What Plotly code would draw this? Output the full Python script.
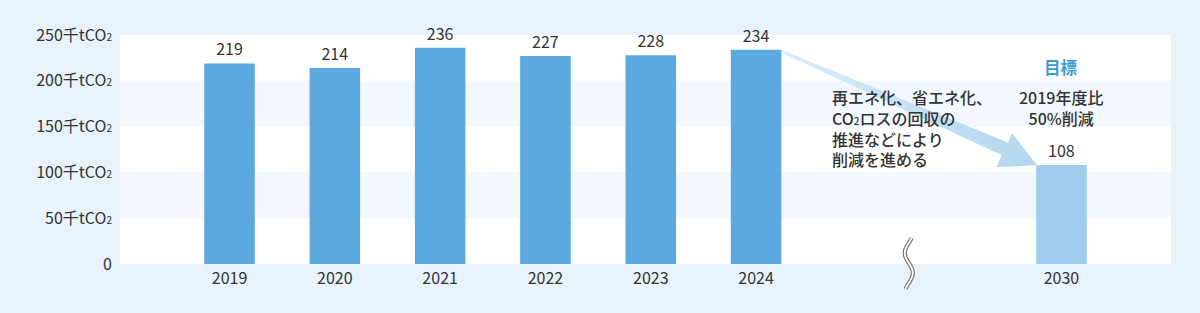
import numpy as np
import plotly.graph_objects as go

# ---------------- data ----------------
years = ["2019", "2020", "2021", "2022", "2023", "2024", "2030"]
emissions = [219, 214, 236, 227, 228, 234, 108]   # 千tCO2
y_ticks = [0, 50, 100, 150, 200, 250]
SUB2 = "<span style='font-size:10px'>2</span>"
y_tick_labels = ["0"] + [f"{v}千tCO{SUB2}" for v in y_ticks[1:]]
note_lines = ["再エネ化、省エネ化、", f"CO{SUB2}ロスの回収の", "推進などにより", "削減を進める"]
target_title = "目標"
target_lines = ["2019年度比", "50%削減"]

# ---------------- layout constants ----------------
W, H = 1200, 313
ML, MR, MT, MB = 120, 29, 35, 49
PW, PH = W - ML - MR, H - MT - MB
GAP = 2.90                    # spacing (in slots) between 2024 and 2030
BAR_W = 0.48
XMIN, XMAX = -1.04, 8.94
YMAX = 250
FONT = "Noto Sans CJK JP"
TXT = "#333333"
BAR_C = "#5ba9de"
TARGET_C = "#9fcbec"
BG = "#e8f2fa"
BAND = "#f2f8fd"

pos = [float(i) for i in range(len(years) - 1)] + [len(years) - 2 + GAP]
colors = [BAR_C] * (len(years) - 1) + [TARGET_C]

px_per_x = PW / (XMAX - XMIN)
px_per_y = PH / YMAX


def paper_x(x):
    return (x - XMIN) / (XMAX - XMIN)


fig = go.Figure()

fig.add_trace(go.Bar(
    x=pos, y=emissions, width=BAR_W,
    marker=dict(color=colors, line=dict(width=0)),
    text=[str(v) for v in emissions], textposition="outside",
    textfont=dict(family=FONT, size=16, color=TXT),
    constraintext="none", cliponaxis=False, hoverinfo="skip",
))

# ---- arrow from 2024 bar to 2030 bar ----
sx, sy = pos[5] + BAR_W / 2, emissions[5]
tx, ty = pos[6] - BAR_W / 2, emissions[6]


def off(bx, by, dxp, dyp):
    return bx + dxp / px_per_x, by - dyp / px_per_y


pts = [
    off(sx, sy, 0.5, 0.4),
    off(tx, ty, -28.3, -22.6),
    off(tx, ty, -24.0, -31.7),
    off(tx, ty, 0.6, 0.0),
    off(tx, ty, -40.0, 2.3),
    off(tx, ty, -34.3, -9.8),
    off(sx, sy, 0.5, 3.0),
]
pts.append(pts[0])
fig.add_trace(go.Scatter(
    x=[p[0] for p in pts], y=[p[1] for p in pts],
    mode="lines", line=dict(width=0, color="rgba(0,0,0,0)"),
    fill="toself",
    fillgradient=dict(type="horizontal",
                      colorscale=[[0, "#d9ecf7"], [1, "#b2d7ee"]]),
    hoverinfo="skip", showlegend=False,
))

# ---- background bands ----
shapes = []
for i in range(len(y_ticks) - 1):
    if i % 2 == 1:
        shapes.append(dict(type="rect", xref="paper", yref="y",
                           x0=0, x1=1, y0=y_ticks[i], y1=y_ticks[i + 1],
                           fillcolor=BAND, line=dict(width=0), layer="below"))

# ---- axis break symbol ----
bx = paper_x((pos[5] + pos[6]) / 2)
ys = np.linspace(238, 289, 60)
xs = ML + bx * PW + 4.0 * np.cos(np.pi * (ys - 233) / 20)
path = "M " + " L ".join(f"{(x - ML) / PW:.5f},{(MT + PH - y) / PH:.5f}" for x, y in zip(xs, ys))
shapes.append(dict(type="path", xref="paper", yref="paper", path=path,
                   line=dict(color="#777777", width=4.2), layer="above"))
shapes.append(dict(type="path", xref="paper", yref="paper", path=path,
                   line=dict(color="#ffffff", width=1.8), layer="above"))

# ---- annotations ----
ann = []
note_x = (830 - ML) / PW
note_mid = 127.5
ann.append(dict(xref="paper", yref="paper", x=note_x, y=(MT + PH - note_mid) / PH,
                xanchor="left", yanchor="middle", align="left",
                text="<br>".join(note_lines), showarrow=False,
                font=dict(family=FONT, size=16, color=TXT, weight=500)))
ann.append(dict(xref="x", yref="paper", x=pos[6], y=(MT + PH - 67) / PH,
                xanchor="center", yanchor="middle", text=target_title, showarrow=False,
                font=dict(family=FONT, size=16.5, color="#3f9bd6", weight=700)))
ann.append(dict(xref="x", yref="paper", x=pos[6], y=(MT + PH - 108) / PH,
                xanchor="center", yanchor="middle", align="center",
                text="<br>".join(target_lines), showarrow=False,
                font=dict(family=FONT, size=16, color=TXT, weight=500)))

fig.update_layout(
    width=W, height=H,
    margin=dict(l=ML, r=MR, t=MT, b=MB, autoexpand=False),
    paper_bgcolor=BG, plot_bgcolor="#ffffff",
    showlegend=False, shapes=shapes, annotations=ann,
    font=dict(family=FONT, size=16, color=TXT),
    xaxis=dict(range=[XMIN, XMAX], tickvals=pos, ticktext=years,
               showgrid=False, zeroline=False, showline=False, ticks="",
               ticklabelstandoff=3,
               tickfont=dict(family=FONT, size=16, color=TXT), fixedrange=True),
    yaxis=dict(range=[0, YMAX], tickvals=y_ticks, ticktext=y_tick_labels,
               showgrid=False, zeroline=False, showline=False, ticks="",
               ticklabelstandoff=7,
               tickfont=dict(family=FONT, size=16, color=TXT), fixedrange=True),
)

fig.write_html("out.html", config={"displayModeBar": False})
